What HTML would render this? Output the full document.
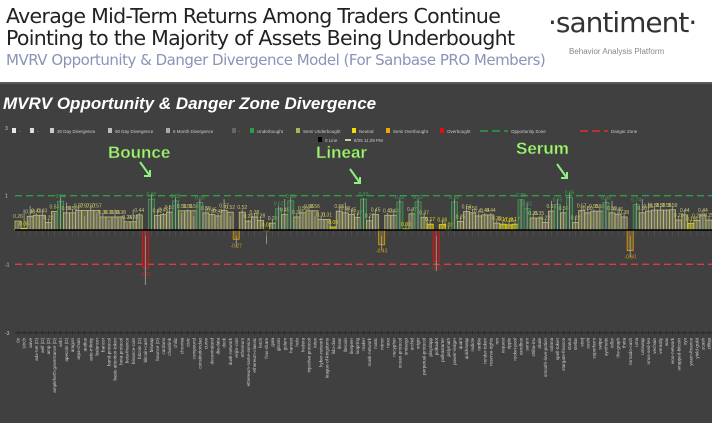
<!DOCTYPE html>
<html><head><meta charset="utf-8">
<style>
body{margin:0;width:712px;height:421px;overflow:hidden;background:#fff;font-family:"Liberation Sans",sans-serif}
#hdr{position:absolute;left:0;top:0;width:712px;height:82px;background:#fff}
.h1{position:absolute;left:6px;font-size:20.5px;color:#222;white-space:nowrap;font-family:"DejaVu Sans","Liberation Sans",sans-serif;letter-spacing:-0.7px}
#chart{position:absolute;left:0;top:82px;width:712px;height:339px;background:#404040;border-top:2px solid #5a5a5a}
</style></head><body>
<div id="hdr">
<div class="h1" style="top:4px">Average Mid-Term Returns Among Traders Continue</div>
<div class="h1" style="top:26px">Pointing to the Majority of Assets Being Underbought</div>
<div class="h1" style="top:51px;font-size:15px;color:#8a93b8;letter-spacing:-0.5px">MVRV Opportunity &amp; Danger Divergence Model (For Sanbase PRO Members)</div>
<div style="position:absolute;left:548px;top:6px;font-size:28px;color:#333;font-family:'DejaVu Sans',sans-serif;letter-spacing:-1px">·santiment·</div>
<div style="position:absolute;left:569px;top:47px;font-size:8px;color:#888">Behavior Analysis Platform</div>
</div>
<div id="chart">
<svg id="svg" width="712" height="339" viewBox="0 82 712 339" style="position:absolute;left:0;top:-2px"></svg>
</div>
<script>
const categories=["0x","1inch","aave","adx-net (D)","aelf (D)","amp (D)","ampleforth-governance (D)","ankr","apecoin (D)","aragon","arpa-chain","audius","axie-infinity","balancer","bancor","band-protocol","basic-attention-token","beta-protocol","beta-finance","binance-coin","bitcoin (D)","bitcoin-cash","biswap","bounce (D)","cardano","chainlink","chiliz","chromia","civic","compound","constitutiondao","curve","decentraland","dia-data","dock","dusk-network","enjin-coin","ethereum","ethereum-name-service","ethereum-classic","fetch","frax-share","gala","gitcoin","golem","harvest","holo","hedera","injective-protocol","iotex","kyber-network","league-of-kingdoms","lido-dao","linear","litecoin","livepeer","loopring","maker","mask-network","matic","mirror","nexo","nucypher","ocean-protocol","omisego","orchid","origin","perpetual-protocol","playdapp","polkadot","polkastarter","polymath","power-ledger","quant","quickswap","radicle","rarible","render-token","reserve-rights","ren","request","ripple","rocket-pool","sandbox","serum","shiba-inu","skale","smooth-love-potion","solana","spell-token","stargate-finance","status","stellar","storj","sushi","superfarm","swipe","synthetix","tellor","the-graph","theta","tornado-cash","uma","uniswap","unus-sed-leo","vechain","verasity","wax","woo-network","wrapped-bitcoin","xyo","yearn-finance","yield-guild","zcash","zilliqa"];
const values=[0.26,0.05,0.40,0.43,0.43,0.22,0.54,0.84,0.50,0.50,0.57,0.57,0.57,0.57,0.38,0.38,0.38,0.38,0.24,0.24,0.44,-1.11,0.90,0.42,0.45,0.52,0.85,0.56,0.56,0.56,0.80,0.50,0.45,0.41,0.57,0.52,-0.27,0.52,0.26,0.38,0.28,0.01,0.20,0.62,0.45,0.85,0.38,0.50,0.56,0.56,0.31,0.31,0.09,0.55,0.50,0.45,0.37,0.90,0.27,0.45,-0.43,0.43,0.43,0.82,0.03,0.47,0.82,0.37,0.17,-0.92,0.16,0.02,0.82,0.25,0.54,0.50,0.41,0.44,0.44,0.20,0.17,0.15,0.17,0.88,0.62,0.35,0.35,0.22,0.55,0.75,0.50,0.95,0.22,0.57,0.50,0.55,0.55,0.80,0.50,0.46,0.38,-0.60,0.74,0.50,0.55,0.58,0.58,0.58,0.59,0.29,0.44,0.19,0.28,0.44,0.29];
const lines=[0.20,0.60,0.70,0.50,0.60,0.30,0.50,0.95,0.80,0.60,0.70,0.40,0.70,0.50,0.50,0.30,0.60,0.40,0.20,0.60,0.50,-1.60,1.05,0.60,0.50,0.70,0.95,0.50,0.60,0.40,0.90,0.70,0.60,0.50,0.90,0.40,-0.50,0.60,0.30,0.50,0.40,-0.40,0.30,0.70,0.90,0.95,0.50,0.60,0.70,0.40,0.40,0.30,0.10,0.70,0.80,0.60,0.50,0.93,0.40,0.60,-0.60,0.50,0.60,0.90,0.20,0.60,0.90,0.50,0.30,-1.20,0.30,0.10,0.90,0.40,0.70,0.60,0.50,0.50,0.50,0.30,0.30,0.30,0.30,0.90,0.80,0.50,0.40,0.30,0.85,0.90,0.60,1.09,0.40,0.70,0.70,0.60,0.70,0.90,0.85,0.60,0.50,-0.80,0.80,0.90,0.80,0.70,0.70,0.60,0.70,0.40,0.60,0.30,0.40,0.60,0.40];
const yTicks=[1,-1,-3];
const svg=document.getElementById('svg');
const NS='http://www.w3.org/2000/svg';
const X0=15,X1=712,Y0=230,PU=34.3;
const step=(X1-X0)/categories.length;
function xs(i){return X0+step*i+step/2}
function ys(v){return Y0-v*PU}
function mk(t,a,parent){const e=document.createElementNS(NS,t);for(const k in a)e.setAttribute(k,a[k]);(parent||svg).appendChild(e);return e}
function txt(x,y,s,a){const e=mk('text',Object.assign({x:x,y:y,'font-family':'Liberation Sans, sans-serif'},a));e.textContent=s;return e}
let t=txt(3,109,'MVRV Opportunity & Danger Zone Divergence',{fill:'#fff','font-size':'17','font-weight':'bold','font-style':'italic'});


const legItems=[[12,'#e8e8e8','-'],[30,'#ddd','-'],[50,'#ccc','30 Day Divergence'],[108,'#bbb','90 Day Divergence'],[166,'#aaa','6 Month Divergence'],[232,'#666','-'],[250,'#2e9e44','Underbought'],[296,'#a8b45a','Semi Underbought'],[352,'#f0e000','Neutral'],[386,'#f0a800','Semi Overbought'],[440,'#e01010','Overbought']];
legItems.forEach(l=>{const g=mk('g',{});
mk('rect',{x:l[0],y:128,width:4,height:5,fill:l[1]},g);const e=txt(l[0]+7,133,l[2],{fill:'#ccc','font-size':'4.5'});g.appendChild(e);});
[[480,'#2e9e44','Opportunity Zone'],[580,'#e03030','Danger Zone']].forEach(l=>{const g=mk('g',{});
mk('line',{x1:l[0],x2:l[0]+28,y1:131,y2:131,stroke:l[1],'stroke-width':1.5,'stroke-dasharray':'8 4'},g);g.appendChild(txt(l[0]+31,133,l[2],{fill:'#ccc','font-size':'4.5'}));});
mk('rect',{x:318,y:137,width:4,height:5,fill:'#000'});txt(325,142,'0 Line',{fill:'#ccc','font-size':'4.5'});
mk('rect',{x:345,y:139,width:6,height:2,fill:'#d8c89a'});txt(354,142,'8/25 11:29 PM',{fill:'#ccc','font-size':'4.5'});
txt(5,130,'3',{fill:'#ccc','font-size':'5'});
yTicks.forEach(v=>{const e=txt(5,ys(v)+2,String(v),{fill:'#ccc','font-size':'5'});});
let z=mk('line',{x1:X0,x2:X1,y1:ys(1),y2:ys(1),stroke:'#2e9e44','stroke-width':1.3,'stroke-dasharray':'7 4'});
z=mk('line',{x1:X0,x2:X1,y1:ys(-1),y2:ys(-1),stroke:'#e03a3a','stroke-width':1.3,'stroke-dasharray':'7 4'});
function col(v){if(v>=0.6)return['rgba(60,120,70,0.45)','#3aa050','#3aa050'];if(v>=0.2)return['rgba(160,160,100,0.45)','#c0c070','#c8c870'];if(v>=0)return['rgba(230,220,0,0.5)','#f0e000','#f0e000'];if(v>-0.7)return['rgba(200,140,0,0.35)','#e0a000','#e0a000'];return['rgba(180,20,20,0.5)','#e01818','#e02020'];}
values.forEach((v,i)=>{const x=xs(i);
 const c=col(v);const y=Math.min(ys(v),ys(0)),h=Math.abs(ys(v)-ys(0));
 const r=mk('rect',{x:x-step/2,y:y,width:step,height:Math.max(h,1),fill:c[0],stroke:c[1],'stroke-width':0.8});
 
 
 const l=mk('line',{x1:x,x2:x,y1:ys(0),y2:ys(lines[i]),stroke:'#aaa','stroke-width':0.8});
 
 
 const lab=txt(x,v>=0?y-3:y+h+8,v.toFixed(2),{fill:c[2],'font-size':'5','text-anchor':'middle'});
 
 
 mk('line',{x1:x,x2:x,y1:ys(0),y2:ys(0)+6,stroke:'#555','stroke-width':0.6});
});
z=mk('line',{x1:X0,x2:X1,y1:ys(0),y2:ys(0),stroke:'#000','stroke-width':1.6});
mk('line',{x1:X0,x2:X1,y1:ys(-3),y2:ys(-3),stroke:'#222','stroke-width':0.8});
categories.forEach((c,i)=>{const x=xs(i);mk('line',{x1:x,x2:x,y1:ys(-3)-2,y2:ys(-3)+2,stroke:'#222','stroke-width':0.6});
 const e=txt(0,0,c,{fill:'#ccc','font-size':'4.6','text-anchor':'end',transform:`translate(${x+1.6},${ys(-3)+5}) rotate(-90)`});
 
 
});
[['Bounce',108,158,150,176],['Linear',316,158,360,183],['Serum',516,154,567,178]].forEach(a=>{
 const e=txt(a[1],a[2],a[0],{fill:'#a8f07a','font-size':'17','font-weight':'bold',stroke:'#3a6a2a','stroke-width':'0.4'});
 
 
 const sx=a[3]-10,sy=a[4]-14;
 mk('line',{x1:sx,y1:sy,x2:a[3],y2:a[4],stroke:'#8ef080','stroke-width':2});
 mk('polyline',{points:`${a[3]-6},${a[4]} ${a[3]},${a[4]} ${a[3]},${a[4]-6}`,fill:'none',stroke:'#8ef080','stroke-width':2});
});
</script>
</body></html>
